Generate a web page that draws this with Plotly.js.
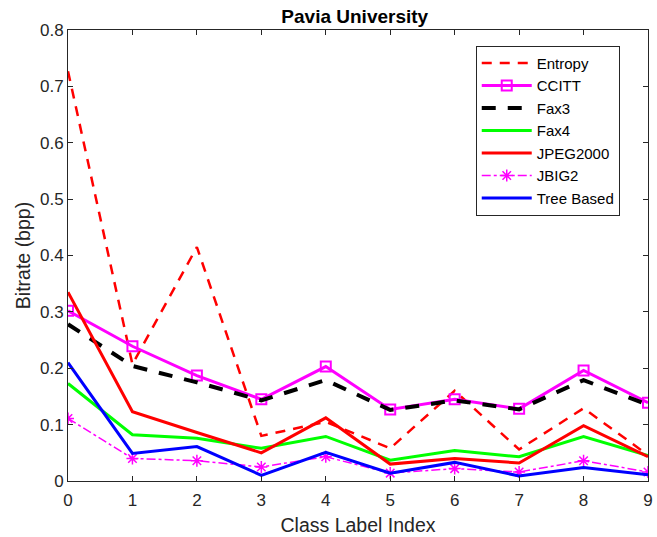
<!DOCTYPE html>
<html>
<head>
<meta charset="utf-8">
<script src="https://cdn.plot.ly/plotly-3.0.1.min.js"></script>
<style>html,body{margin:0;padding:0;background:#fff;}#chart{width:657px;height:537px;}</style>
</head>
<body>
<div id="chart"></div>
<script>
const classIdx = [0, 1, 2, 3, 4, 5, 6, 7, 8, 9];
const entropy   = [0.727, 0.207, 0.415, 0.080, 0.105, 0.058, 0.160, 0.056, 0.129, 0.046];
const ccitt     = [0.302, 0.239, 0.187, 0.145, 0.203, 0.127, 0.145, 0.128, 0.196, 0.139];
const fax3      = [0.278, 0.204, 0.175, 0.143, 0.179, 0.126, 0.143, 0.127, 0.179, 0.135];
const fax4      = [0.173, 0.082, 0.076, 0.058, 0.079, 0.037, 0.054, 0.043, 0.079, 0.045];
const jpeg2000  = [0.335, 0.123, 0.086, 0.050, 0.112, 0.030, 0.040, 0.032, 0.098, 0.043];
const jbig2     = [0.111, 0.040, 0.036, 0.025, 0.043, 0.014, 0.022, 0.016, 0.036, 0.016];
const treeBased = [0.210, 0.049, 0.061, 0.010, 0.051, 0.014, 0.033, 0.009, 0.024, 0.011];
const yTicks = [0, 0.1, 0.2, 0.3, 0.4, 0.5, 0.6, 0.7, 0.8];
const yTickText = ['0', '0.1', '0.2', '0.3', '0.4', '0.5', '0.6', '0.7', '0.8'];

const traces = [
  {x: classIdx, y: entropy, name: 'Entropy', mode: 'lines',
   line: {color: '#ff0000', width: 2.5, dash: '10px,8px'}},
  {x: classIdx, y: ccitt, name: 'CCITT', mode: 'lines+markers',
   line: {color: '#ff00ff', width: 3},
   marker: {symbol: 'square-open', size: 10, color: '#ff00ff', line: {width: 2, color: '#ff00ff'}}},
  {x: classIdx, y: fax3, name: 'Fax3', mode: 'lines',
   line: {color: '#000000', width: 4, dash: '14px,12px'}},
  {x: classIdx, y: fax4, name: 'Fax4', mode: 'lines',
   line: {color: '#00ff00', width: 3}},
  {x: classIdx, y: jpeg2000, name: 'JPEG2000', mode: 'lines',
   line: {color: '#ff0000', width: 3}},
  {x: classIdx, y: jbig2, name: 'JBIG2', mode: 'lines+markers',
   line: {color: '#ff00ff', width: 1.5, dash: 'dashdot'},
   marker: {symbol: 'asterisk-open', size: 10, color: '#ff00ff', line: {width: 1.5, color: '#ff00ff'}}},
  {x: classIdx, y: treeBased, name: 'Tree Based', mode: 'lines',
   line: {color: '#0000ff', width: 3}}
];

const fam = 'Liberation Sans, Arial, sans-serif';
const axisCommon = {
  showgrid: false, zeroline: false,
  showline: true, linecolor: '#262626', linewidth: 1, mirror: 'ticks',
  ticks: 'inside', ticklen: 5, tickcolor: '#262626', tickwidth: 1,
  tickfont: {family: fam, size: 17, color: '#262626'}
};

const layout = {
  width: 657, height: 537,
  margin: {l: 68, r: 9, t: 30, b: 56},
  paper_bgcolor: '#ffffff', plot_bgcolor: '#ffffff',
  title: {text: '<b>Pavia University</b>', x: 0.54, xanchor: 'center', y: 0.970, yanchor: 'middle',
          font: {family: fam, size: 19, color: '#000000'}},
  xaxis: Object.assign({}, axisCommon, {
    range: [0, 9], tickvals: classIdx, ticktext: classIdx.map(String),
    ticklabelstandoff: 4,
    title: {text: 'Class Label Index', standoff: 8,
            font: {family: fam, size: 19.5, color: '#262626'}}
  }),
  yaxis: Object.assign({}, axisCommon, {
    range: [0, 0.8], tickvals: yTicks, ticktext: yTickText,
    title: {text: 'Bitrate (bpp)', standoff: 4,
            font: {family: fam, size: 19.5, color: '#262626'}}
  }),
  showlegend: true,
  legend: {
    x: 0.703, y: 0.965, xanchor: 'left', yanchor: 'top',
    bgcolor: '#ffffff', bordercolor: '#262626', borderwidth: 1,
    font: {family: fam, size: 15, color: '#000000'},
    tracegroupgap: 0, itemwidth: 50
  }
};

Plotly.newPlot('chart', traces, layout, {displayModeBar: false, staticPlot: true});
</script>
</body>
</html>
